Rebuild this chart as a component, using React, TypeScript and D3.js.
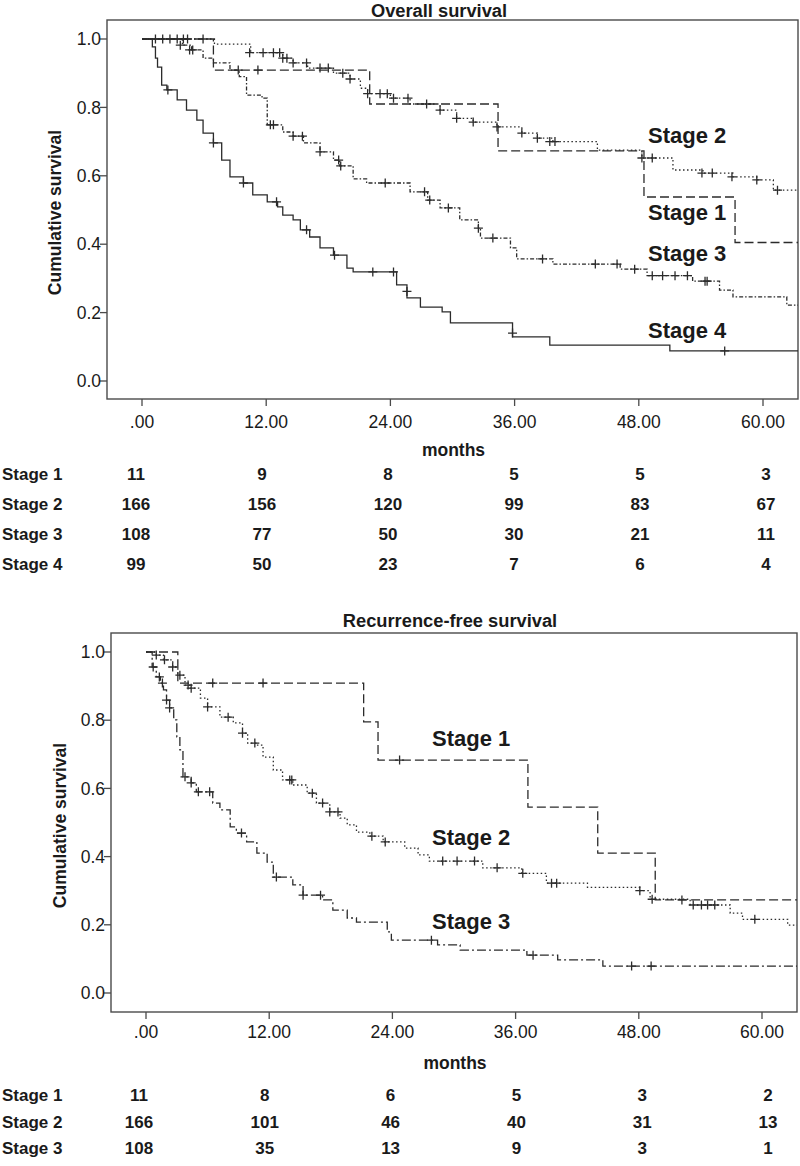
import React from 'react';
import * as d3 from 'd3';

type Pt = [number, number];

// ---------- axis values ----------
const monthTicks = [0, 12, 24, 36, 48, 60];
const monthTickLabels = ['.00', '12.00', '24.00', '36.00', '48.00', '60.00'];
const survTicks = [0, 0.2, 0.4, 0.6, 0.8, 1.0];
const survTickLabels = ['0.0', '0.2', '0.4', '0.6', '0.8', '1.0'];
const followUpEnd = 63.6;

// ---------- Overall survival (KM steps: [month, survival]) ----------
const osStage1Steps: Pt[] = [[0, 1], [6.9, 0.909], [22.0, 0.81], [34.4, 0.673], [48.5, 0.538], [57.3, 0.405]];
const osStage1Censor: Pt[] = [[11.2, 0.909]];

const osStage2Steps: Pt[] = [[0, 1], [7.0, 0.985], [10.5, 0.96], [13.6, 0.944], [14.6, 0.93], [16.0, 0.915], [18.5, 0.9], [20.1, 0.883], [21.1, 0.856], [21.8, 0.84], [24.0, 0.827], [25.9, 0.81], [28.8, 0.792], [30.4, 0.768], [32.0, 0.757], [34.3, 0.743], [36.7, 0.725], [38.2, 0.71], [39.7, 0.7], [44.0, 0.675], [48.3, 0.652], [51.3, 0.617], [54.2, 0.608], [57.1, 0.597], [59.4, 0.588], [61.0, 0.558]];
const osStage2Censor: Pt[] = [[1.3, 1], [2.0, 1], [2.7, 1], [3.4, 1], [4.0, 1], [4.4, 1], [5.9, 1], [10.4, 0.96], [11.7, 0.96], [12.7, 0.96], [13.3, 0.96], [13.6, 0.944], [14.0, 0.944], [14.6, 0.93], [15.9, 0.93], [17.2, 0.915], [18.0, 0.915], [19.4, 0.9], [20.1, 0.883], [21.8, 0.84], [23.0, 0.84], [23.7, 0.84], [24.3, 0.827], [25.7, 0.827], [27.5, 0.81], [28.8, 0.792], [30.4, 0.768], [32.0, 0.757], [34.3, 0.743], [36.7, 0.725], [38.2, 0.71], [39.4, 0.7], [39.9, 0.7], [48.3, 0.652], [49.3, 0.652], [54.1, 0.608], [55.1, 0.608], [57.0, 0.597], [59.4, 0.588], [61.4, 0.558]];

const osStage3Steps: Pt[] = [[0, 1], [3.9, 0.982], [4.8, 0.968], [5.9, 0.944], [6.9, 0.93], [8.5, 0.909], [9.4, 0.89], [10.1, 0.836], [11.6, 0.827], [12.1, 0.749], [13.6, 0.728], [14.6, 0.716], [15.6, 0.696], [17.2, 0.67], [18.5, 0.646], [19.1, 0.629], [20.4, 0.591], [21.7, 0.579], [25.9, 0.553], [27.6, 0.529], [28.8, 0.506], [30.7, 0.471], [32.5, 0.447], [32.7, 0.418], [35.6, 0.389], [36.2, 0.357], [39.7, 0.342], [46.2, 0.327], [48.8, 0.308], [53.2, 0.292], [55.8, 0.266], [57.1, 0.246], [62.3, 0.222]];
const osStage3Censor: Pt[] = [[3.7, 0.982], [4.6, 0.968], [4.9, 0.968], [9.3, 0.909], [12.4, 0.749], [12.7, 0.749], [14.6, 0.716], [15.5, 0.716], [17.2, 0.67], [19.0, 0.646], [19.2, 0.629], [23.5, 0.579], [27.3, 0.553], [27.8, 0.529], [29.6, 0.506], [32.5, 0.447], [33.9, 0.418], [38.7, 0.357], [43.8, 0.342], [45.9, 0.342], [47.6, 0.327], [49.3, 0.308], [50.3, 0.308], [51.5, 0.308], [52.7, 0.308], [54.4, 0.292], [54.6, 0.292]];

const osStage4Steps: Pt[] = [[0, 1], [1.0, 0.977], [1.3, 0.944], [1.5, 0.918], [1.9, 0.865], [2.4, 0.851], [3.4, 0.822], [4.3, 0.792], [5.3, 0.763], [5.9, 0.725], [6.9, 0.696], [7.7, 0.646], [8.5, 0.597], [9.8, 0.579], [10.7, 0.544], [12.1, 0.524], [13.1, 0.509], [13.6, 0.485], [14.6, 0.471], [15.3, 0.442], [16.2, 0.421], [17.2, 0.389], [18.5, 0.368], [19.8, 0.33], [20.4, 0.319], [24.6, 0.281], [25.6, 0.243], [26.9, 0.216], [29.0, 0.202], [29.8, 0.17], [35.8, 0.129], [39.4, 0.105], [51.0, 0.088]];
const osStage4Censor: Pt[] = [[2.5, 0.851], [6.9, 0.696], [9.8, 0.579], [13.0, 0.524], [15.9, 0.442], [18.6, 0.368], [22.3, 0.319], [24.3, 0.319], [25.6, 0.262], [35.8, 0.14], [56.3, 0.088]];

// ---------- Recurrence-free survival ----------
const rfsStage1Steps: Pt[] = [[0, 1], [3.1, 0.909], [21.2, 0.795], [22.6, 0.683], [37.2, 0.545], [44.0, 0.41], [49.6, 0.273]];
const rfsStage1Censor: Pt[] = [[6.5, 0.909], [11.4, 0.909], [24.7, 0.683], [52.2, 0.273]];

const rfsStage2Steps: Pt[] = [[0, 1], [1.0, 0.991], [1.7, 0.977], [2.6, 0.956], [3.1, 0.932], [3.8, 0.903], [4.3, 0.894], [5.3, 0.865], [6.0, 0.839], [7.2, 0.809], [8.5, 0.792], [9.4, 0.762], [9.9, 0.733], [10.8, 0.727], [11.4, 0.692], [12.4, 0.654], [13.3, 0.625], [14.3, 0.61], [15.7, 0.586], [16.6, 0.557], [17.9, 0.531], [18.9, 0.513], [19.6, 0.493], [20.5, 0.472], [21.8, 0.46], [23.1, 0.443], [25.2, 0.425], [26.5, 0.405], [27.6, 0.387], [32.8, 0.367], [36.6, 0.351], [39.0, 0.322], [43.0, 0.31], [48.1, 0.3], [49.1, 0.275], [53.0, 0.258], [56.9, 0.234], [58.1, 0.216], [62.5, 0.199]];
const rfsStage2Censor: Pt[] = [[1.0, 0.991], [1.8, 0.977], [2.6, 0.956], [3.3, 0.932], [4.1, 0.903], [4.4, 0.894], [6.0, 0.839], [8.0, 0.809], [9.4, 0.762], [10.6, 0.733], [14.0, 0.625], [14.2, 0.625], [16.2, 0.586], [17.2, 0.557], [17.9, 0.531], [18.7, 0.531], [22.0, 0.46], [23.3, 0.443], [28.9, 0.387], [30.3, 0.387], [32.0, 0.387], [34.2, 0.367], [36.7, 0.351], [39.5, 0.322], [40.0, 0.322], [48.1, 0.3], [49.3, 0.275], [53.3, 0.258], [54.1, 0.258], [54.7, 0.258], [55.4, 0.258], [59.3, 0.216]];

const rfsStage3Steps: Pt[] = [[0, 1], [0.6, 0.956], [1.0, 0.927], [1.4, 0.909], [1.7, 0.889], [2.0, 0.859], [2.3, 0.836], [2.7, 0.801], [3.0, 0.751], [3.3, 0.713], [3.6, 0.634], [4.4, 0.616], [4.9, 0.59], [6.5, 0.557], [7.2, 0.537], [8.2, 0.487], [8.8, 0.469], [9.8, 0.443], [10.8, 0.41], [11.8, 0.384], [12.4, 0.34], [14.3, 0.317], [15.3, 0.287], [17.2, 0.273], [18.2, 0.243], [19.6, 0.22], [20.5, 0.208], [23.5, 0.179], [23.9, 0.155], [28.4, 0.141], [30.6, 0.126], [37.1, 0.111], [40.1, 0.097], [44.5, 0.079]];
const rfsStage3Censor: Pt[] = [[0.7, 0.956], [1.3, 0.927], [1.6, 0.909], [2.0, 0.859], [2.3, 0.836], [3.8, 0.634], [4.4, 0.616], [5.1, 0.59], [6.2, 0.59], [9.3, 0.469], [12.7, 0.34], [15.3, 0.287], [17.0, 0.287], [27.8, 0.155], [37.7, 0.111], [47.3, 0.079], [49.2, 0.079]];

// ---------- numbers at risk ----------
const stageNames = ['Stage 1', 'Stage 2', 'Stage 3', 'Stage 4'];
const osAtRisk1 = [11, 9, 8, 5, 5, 3];
const osAtRisk2 = [166, 156, 120, 99, 83, 67];
const osAtRisk3 = [108, 77, 50, 30, 21, 11];
const osAtRisk4 = [99, 50, 23, 7, 6, 4];
const rfsAtRisk1 = [11, 8, 6, 5, 3, 2];
const rfsAtRisk2 = [166, 101, 46, 40, 31, 13];
const rfsAtRisk3 = [108, 35, 13, 9, 3, 1];

// ---------- styles ----------
const FONT = '"Liberation Sans", Arial, Helvetica, sans-serif';
const INK = '#1a1a1a';
const LINE = '#2b2b2b';
const FRAME = '#4a4a4a';

interface Series {
  steps: Pt[];
  censor: Pt[];
  dash: string;
}

interface PanelLayout {
  title: string;
  titleX: number;
  frame: { l: number; t: number; r: number; b: number };
  xRange: [number, number];
  yRange: [number, number];
  titleY: number;
  tickLabelY: number;
  monthsY: number;
  yTitleX: number;
  tableX: [number, number];
  tableRowsY: number[];
  labelX: number;
  labelYs: number[];
}

function Panel({ layout, series, tables }: { layout: PanelLayout; series: Series[]; tables: number[][] }) {
  const { frame } = layout;
  const x = d3.scaleLinear().domain([0, 60]).range(layout.xRange);
  const y = d3.scaleLinear().domain([0, 1]).range(layout.yRange);
  const line = d3
    .line<Pt>()
    .x((d) => x(d[0]))
    .y((d) => y(d[1]))
    .curve(d3.curveStepAfter);
  const tx = d3.scalePoint<number>().domain(monthTicks).range(layout.tableX);
  const clipId = 'clip' + layout.title.replace(/\W/g, '');
  const midX = (frame.l + frame.r) / 2;
  const midY = (frame.t + frame.b) / 2;
  return (
    <g>
      <defs>
        <clipPath id={clipId}>
          <rect x={frame.l} y={frame.t} width={frame.r - frame.l} height={frame.b - frame.t} />
        </clipPath>
      </defs>
      <text x={layout.titleX} y={layout.titleY} textAnchor="middle" fontFamily={FONT} fontWeight="bold" fontSize={18.3} fill={INK}>
        {layout.title}
      </text>
      <rect x={frame.l} y={frame.t} width={frame.r - frame.l} height={frame.b - frame.t} fill="none" stroke={FRAME} strokeWidth={1.4} />
      {/* y axis */}
      {survTicks.map((v, i) => (
        <g key={'y' + i}>
          <line x1={frame.l - 7} x2={frame.l} y1={y(v)} y2={y(v)} stroke={FRAME} strokeWidth={1.3} />
          <text x={frame.l - 6} y={y(v)} dy="0.35em" textAnchor="end" fontFamily={FONT} fontSize={17.5} fill={INK}>
            {survTickLabels[i]}
          </text>
        </g>
      ))}
      <text
        transform={`translate(${layout.yTitleX},${midY + 3}) rotate(-90)`}
        textAnchor="middle"
        fontFamily={FONT}
        fontWeight="bold"
        fontSize={17.5}
        fill={INK}
      >
        Cumulative survival
      </text>
      {/* x axis */}
      {monthTicks.map((v, i) => (
        <g key={'x' + i}>
          <line x1={x(v)} x2={x(v)} y1={frame.b} y2={frame.b + 7} stroke={FRAME} strokeWidth={1.3} />
          <text x={x(v)} y={layout.tickLabelY} dy="0.35em" textAnchor="middle" fontFamily={FONT} fontSize={17.5} fill={INK}>
            {monthTickLabels[i]}
          </text>
        </g>
      ))}
      <text x={midX + 1} y={layout.monthsY} dy="0.35em" textAnchor="middle" fontFamily={FONT} fontWeight="bold" fontSize={17.5} fill={INK}>
        months
      </text>
      {/* curves */}
      <g clipPath={`url(#${clipId})`}>
        {series.map((s, i) => {
          const last = s.steps[s.steps.length - 1];
          const pts: Pt[] = [...s.steps, [followUpEnd, last[1]]];
          return (
            <g key={'s' + i}>
              <path d={line(pts) || ''} fill="none" stroke={LINE} strokeWidth={1.3} strokeDasharray={s.dash} />
              {s.censor.map((c, j) => (
                <path
                  key={j}
                  d={`M${x(c[0]) - 4.5},${y(c[1])}h9M${x(c[0])},${y(c[1]) - 4.5}v9`}
                  stroke={LINE}
                  strokeWidth={1.3}
                  fill="none"
                />
              ))}
            </g>
          );
        })}
      </g>
      {/* curve labels */}
      {series.map((_, i) => (
        <text key={'l' + i} x={layout.labelX} y={layout.labelYs[i]} dy="0.35em" fontFamily={FONT} fontWeight="bold" fontSize={22} fill={INK}>
          {stageNames[i]}
        </text>
      ))}
      {/* numbers at risk */}
      {tables.map((row, i) => (
        <g key={'t' + i}>
          <text x={2} y={layout.tableRowsY[i]} dy="0.35em" fontFamily={FONT} fontWeight="bold" fontSize={17} fill={INK}>
            {stageNames[i]}
          </text>
          {row.map((n, j) => (
            <text key={j} x={tx(monthTicks[j])} y={layout.tableRowsY[i]} dy="0.35em" textAnchor="middle" fontFamily={FONT} fontWeight="bold" fontSize={17} fill={INK}>
              {n}
            </text>
          ))}
        </g>
      ))}
    </g>
  );
}

const topLayout: PanelLayout = {
  title: 'Overall survival',
  titleX: 439,
  frame: { l: 107, t: 20, r: 798, b: 399 },
  xRange: [142, 763],
  yRange: [381, 39],
  titleY: 16.5,
  tickLabelY: 422,
  monthsY: 450,
  yTitleX: 61,
  tableX: [136, 766],
  tableRowsY: [474, 504, 534, 564],
  labelX: 648,
  labelYs: [212, 135, 253, 330],
};

const bottomLayout: PanelLayout = {
  title: 'Recurrence-free survival',
  titleX: 450,
  frame: { l: 111, t: 633, r: 797, b: 1012 },
  xRange: [146, 762],
  yRange: [993, 652],
  titleY: 627,
  tickLabelY: 1032,
  monthsY: 1063,
  yTitleX: 66,
  tableX: [139, 768],
  tableRowsY: [1095, 1122, 1148],
  labelX: 432,
  labelYs: [738, 837, 921],
};

export default function App() {
  const osSeries: Series[] = [
    { steps: osStage1Steps, censor: osStage1Censor, dash: '9,4' },
    { steps: osStage2Steps, censor: osStage2Censor, dash: '1.5,2.5' },
    { steps: osStage3Steps, censor: osStage3Censor, dash: '4,2,1.5,2' },
    { steps: osStage4Steps, censor: osStage4Censor, dash: '' },
  ];
  const rfsSeries: Series[] = [
    { steps: rfsStage1Steps, censor: rfsStage1Censor, dash: '9,4' },
    { steps: rfsStage2Steps, censor: rfsStage2Censor, dash: '1.5,2.5' },
    { steps: rfsStage3Steps, censor: rfsStage3Censor, dash: '9,3,2,3' },
  ];
  return (
    <svg width={800} height={1166} style={{ position: 'absolute', left: 0, top: 0, background: '#fff' }}>
      <rect width={800} height={1166} fill="#fff" />
      <Panel layout={topLayout} series={osSeries} tables={[osAtRisk1, osAtRisk2, osAtRisk3, osAtRisk4]} />
      <Panel layout={bottomLayout} series={rfsSeries} tables={[rfsAtRisk1, rfsAtRisk2, rfsAtRisk3]} />
    </svg>
  );
}
